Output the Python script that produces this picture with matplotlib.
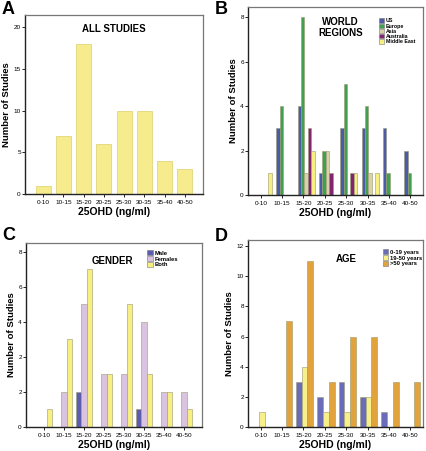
import numpy as np
import matplotlib
matplotlib.use("Agg")
import matplotlib.pyplot as plt
from matplotlib.patches import Patch

plt.rcParams['font.family'] = ['Liberation Sans', 'DejaVu Sans']

cats = ['0-10', '10-15', '15-20', '20-25', '25-30', '30-35', '35-40', '40-50']

# A - all studies
all_studies = [1, 7, 18, 6, 10, 10, 4, 3]

# B - world regions
region_names = ['US', 'Europe', 'Asia', 'Australia', 'Middle East']
us = [0, 3, 4, 1, 3, 3, 3, 2]
europe = [0, 4, 8, 2, 5, 4, 1, 1]
asia = [0, 0, 1, 2, 0, 1, 0, 0]
australia = [0, 0, 3, 1, 1, 0, 0, 0]
middle_east = [1, 0, 2, 0, 1, 1, 0, 0]

# C - gender (heights read against the drawn tick positions; the axis labels are as printed)
gender_names = ['Male', 'Females', 'Both']
male = [0, 0, 2, 0, 0, 1, 0, 0]
females = [0, 2, 7, 3, 3, 6, 2, 2]
both = [1, 5, 9, 3, 7, 3, 2, 1]
c_ticks = [0, 2, 4, 6, 8, 10]
c_ticklabels = ['0', '2', '2', '4', '6', '8']

# D - age
age_names = ['0-19 years', '19-50 years', '>50 years']
age_0_19 = [0, 0, 3, 2, 3, 2, 1, 0]
age_19_50 = [1, 0, 4, 1, 1, 2, 0, 0]
age_50 = [0, 7, 11, 3, 6, 6, 3, 3]

yellow = '#F6EC8E'
region_cols = ['#4B5BA8', '#40A052', '#D9D2A6', '#822472', '#F7EF82']
gender_cols = ['#5C5CAE', '#D9C3E0', '#F7EF82']
age_cols = ['#6A6CBA', '#F7EF8A', '#E2A23C']

W, H = 427, 451
fig = plt.figure(figsize=(W / 100, H / 100), dpi=100)


def make_ax(x0, x1, y0, y1):
    return fig.add_axes([x0 / W, 1 - y1 / H, (x1 - x0) / W, (y1 - y0) / H])


def style(ax, ylim, yticks, yticklabels=None):
    x = np.arange(len(cats))
    ax.set_xticks(x)
    ax.set_xticklabels(cats, fontsize=4.6)
    ax.set_yticks(yticks)
    if yticklabels is not None:
        ax.set_yticklabels(yticklabels)
    ax.tick_params(axis='y', labelsize=4.6, length=2, width=0.6, pad=1)
    ax.tick_params(axis='x', length=2.5, width=0.6, pad=1.5)
    ax.set_ylim(*ylim)
    for s in ['left', 'bottom']:
        ax.spines[s].set_linewidth(1.0)
        ax.spines[s].set_color('#222222')
    for s in ['top', 'right']:
        ax.spines[s].set_linewidth(0.9)
        ax.spines[s].set_color('#777777')
    ax.set_ylabel('Number of Studies', fontsize=6.8, fontweight='bold', labelpad=1.5)
    ax.set_xlabel('25OHD (ng/ml)', fontsize=7.5, fontweight='bold', labelpad=2)


def grouped(ax, series, cols, width, shift=0.0):
    x = np.arange(len(cats))
    n = len(series)
    for i, (vals, c) in enumerate(zip(series, cols)):
        off = (i - (n - 1) / 2) * width + shift
        ax.bar(x + off, vals, width=width, color=c, edgecolor='#9a9a70', linewidth=0.4)


def small_legend(ax, names, cols, loc_xy, size=4.2):
    handles = [Patch(facecolor=c, edgecolor='#777777', linewidth=0.4, label=n) for n, c in zip(names, cols)]
    ax.legend(handles=handles, loc='upper left', bbox_to_anchor=loc_xy, frameon=False,
              handlelength=0.9, handleheight=0.9, handletextpad=0.4,
              labelspacing=0.05, borderaxespad=0, borderpad=0,
              prop={'size': size, 'weight': 'bold'})


# Panel A
axA = make_ax(25, 203, 15, 194)
axA.bar(np.arange(len(cats)), all_studies, width=0.75, color=yellow, edgecolor='#E2D57A', linewidth=0.6)
axA.set_xlim(-0.9, 7.9)
style(axA, (0, 21.5), [0, 5, 10, 15, 20])
axA.text(0.5, 0.92, 'ALL STUDIES', transform=axA.transAxes, ha='center', va='center',
         fontsize=7, fontweight='bold')

# Panel B
axB = make_ax(248, 423, 7, 195)
grouped(axB, [us, europe, asia, australia, middle_east], region_cols, 0.16, shift=0.12)
axB.set_xlim(-0.6, 7.6)
style(axB, (0, 8.47), [0, 2, 4, 6, 8])
axB.text(0.53, 0.89, 'WORLD\nREGIONS', transform=axB.transAxes, ha='center', va='center',
         fontsize=7, fontweight='bold', linespacing=1.1)
small_legend(axB, region_names, region_cols, (0.75, 0.94), size=3.8)

# Panel C
axC = make_ax(26, 202, 243, 427)
grouped(axC, [male, females, both], gender_cols, 0.27)
axC.set_xlim(-0.9, 7.9)
style(axC, (0, 10.5), c_ticks, c_ticklabels)
axC.text(0.49, 0.9, 'GENDER', transform=axC.transAxes, ha='center', va='center',
         fontsize=7, fontweight='bold')
small_legend(axC, gender_names, gender_cols, (0.69, 0.96))

# Panel D
axD = make_ax(248, 423, 240, 427)
grouped(axD, [age_0_19, age_19_50, age_50], age_cols, 0.27, shift=0.05)
axD.set_xlim(-0.6, 7.6)
style(axD, (0, 12.4), [0, 2, 4, 6, 8, 10, 12])
axD.text(0.56, 0.9, 'AGE', transform=axD.transAxes, ha='center', va='center',
         fontsize=7, fontweight='bold')
small_legend(axD, age_names, age_cols, (0.77, 0.95))

for lab, x, y in [('A', 2, 1), ('B', 215, 1), ('C', 2, 227), ('D', 215, 228)]:
    fig.text(x / W, 1 - y / H, lab, fontsize=13, fontweight='bold', ha='left', va='top')

fig.savefig('out.png', dpi=100)
